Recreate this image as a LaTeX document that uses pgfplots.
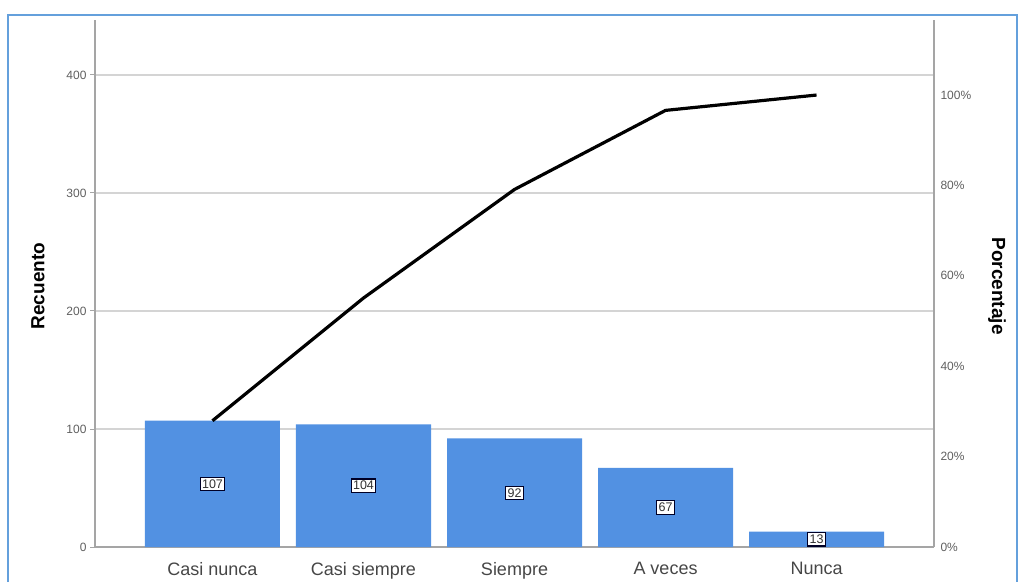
\documentclass[border=0pt]{standalone}
\usepackage{pgfplots}
\pgfplotsset{compat=1.18}
\usepackage{fontspec}
\setmainfont{Liberation Sans}
\definecolor{barblue}{RGB}{82,145,226}
\definecolor{frameblue}{RGB}{100,160,220}
\definecolor{gridgray}{RGB}{212,212,212}
\definecolor{axisgray}{RGB}{165,165,165}
\definecolor{ticktext}{RGB}{95,95,95}
\definecolor{cattext}{RGB}{70,70,70}

\begin{document}
\begin{tikzpicture}[x=1pt,y=1pt]
\useasboundingbox (0,0) rectangle (1019,582);
\draw[frameblue, line width=2pt] (8,0) -- (8,567) -- (1017,567) -- (1017,0);
\begin{axis}[
  at={(95pt,35pt)}, anchor=south west,
  scale only axis, width=839pt, height=527pt,
  xmin=-0.778, xmax=4.778, ymin=0, ymax=446.6,
  axis y line*=left, axis x line*=bottom,
  axis line style={axisgray, line width=1.5pt},
  ytick={0,100,200,300,400},
  yticklabels={0,100,200,300,400},
  yticklabel style={font=\fontsize{12}{14}\selectfont, text=ticktext},
  ymajorgrids,
  major grid style={gridgray, line width=1.2pt},
  tick align=outside, major tick length=5pt,
  ytick style={axisgray, line width=1pt},
  xtick={0,1,2,3,4},
  xticklabels={Casi nunca, Casi siempre, Siempre, A veces, Nunca},
  xtick style={draw=none},
  xticklabel style={font=\fontsize{18}{20}\selectfont, text=cattext, yshift=-7pt},
  ylabel={\textbf{Recuento}},
  every axis y label/.style={at={(axis description cs:-0.068,0.495)}, rotate=90, anchor=center, font=\fontsize{19}{22}\selectfont},
  clip=false,
]
\addplot[ybar, bar width=0.894, fill=barblue, draw=none] coordinates {
  (0,107) (1,104) (2,92) (3,67) (4,13)
};
\addplot[draw=none, mark=none, point meta=explicit symbolic,
  nodes near coords, nodes near coords align=center,
  every node near coord/.style={anchor=center, fill=white, draw=black!85!blue, line width=1.1pt,
    inner xsep=1.8pt, inner ysep=2.2pt, font=\fontsize{12.5}{13}\selectfont, text=black!80}]
coordinates {
  (0,53.5)[107] (1,52)[104] (2,46)[92] (3,33.5)[67] (4,6.5)[13]
};
\addplot[black, line width=3.2pt, line join=round, mark=none] coordinates {
  (0,107) (1,211) (2,303) (3,370) (4,383)
};
\end{axis}
\begin{axis}[
  at={(95pt,35pt)}, anchor=south west,
  scale only axis, width=839pt, height=527pt,
  xmin=-0.778, xmax=4.778, ymin=0, ymax=116.6,
  axis y line*=right, axis x line=none,
  axis line style={axisgray, line width=1.5pt},
  ytick={0,20,40,60,80,100},
  yticklabels={0\%,20\%,40\%,60\%,80\%,100\%},
  yticklabel style={font=\fontsize{12}{14}\selectfont, text=ticktext},
  tick align=outside, major tick length=3pt,
  ytick style={draw=none},
  ylabel={\textbf{Porcentaje}},
  every axis y label/.style={at={(axis description cs:1.075,0.495)}, rotate=-90, anchor=center, font=\fontsize{19}{22}\selectfont},
]
\addplot[draw=none, mark=none] coordinates {(0,0) (4,100)};
\end{axis}
\end{tikzpicture}
\end{document}
